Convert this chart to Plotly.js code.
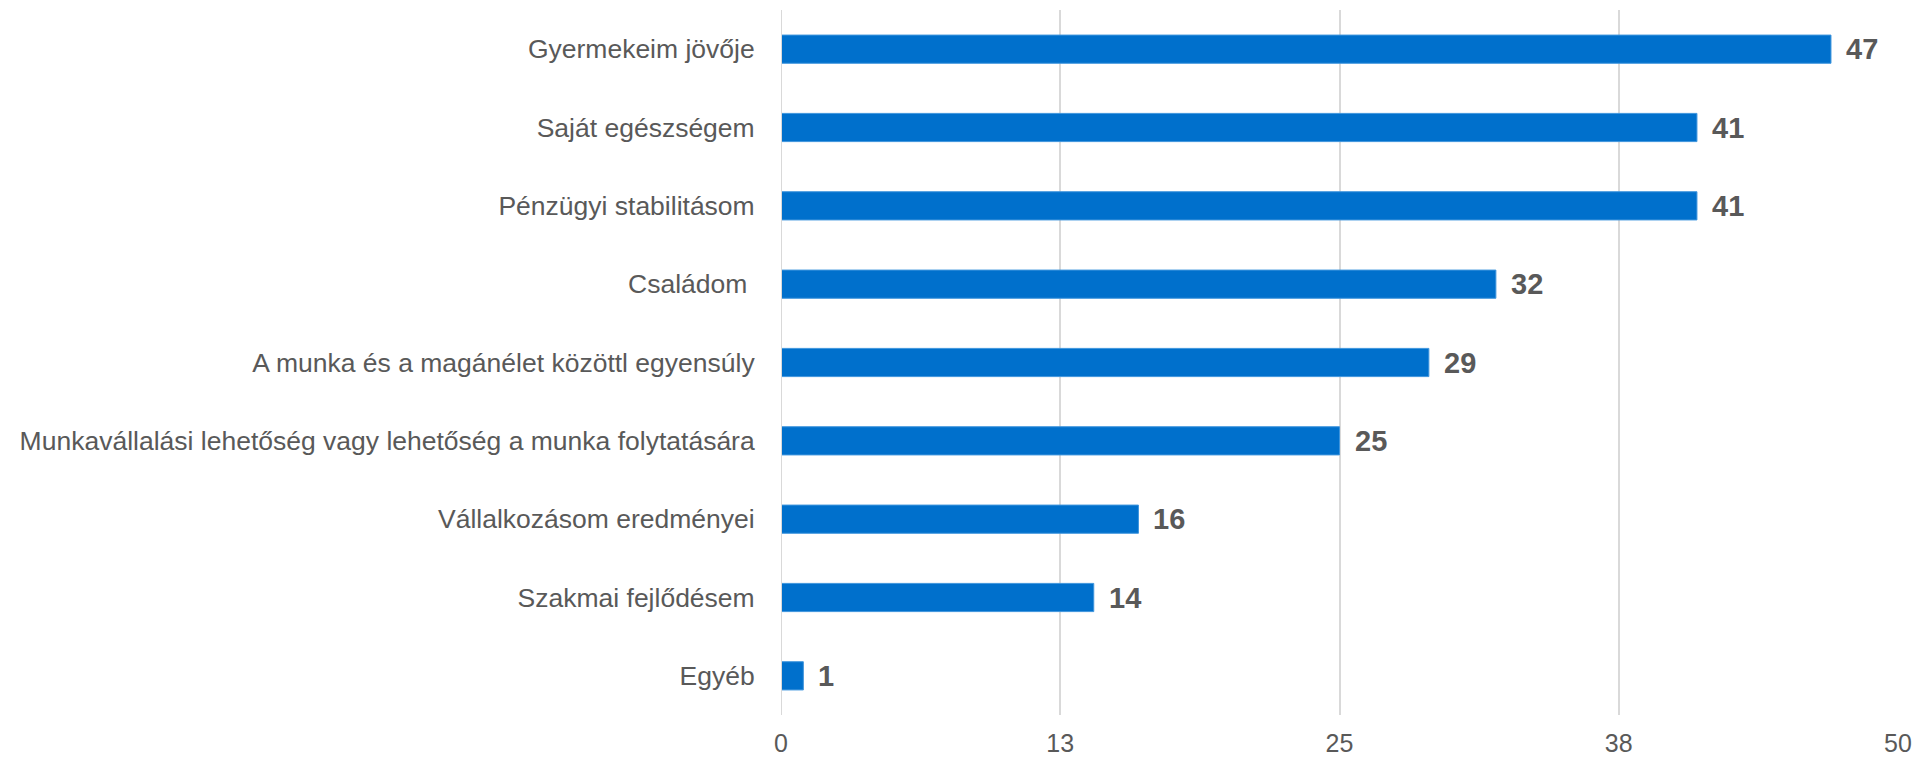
<!DOCTYPE html>
<html>
<head>
<meta charset="utf-8">
<script src="https://cdn.plot.ly/plotly-3.0.1.min.js"></script>
<style>
html,body{margin:0;padding:0;background:#fff;}
#chart{width:1916px;height:760px;}
</style>
</head>
<body>
<div id="chart"></div>
<script>
const categories = [
  "Gyermekeim jövője",
  "Saját egészségem",
  "Pénzügyi stabilitásom",
  "Családom\u00A0",
  "A munka és a magánélet közöttl egyensúly",
  "Munkavállalási lehetőség vagy lehetőség a munka folytatására",
  "Vállalkozásom eredményei",
  "Szakmai fejlődésem",
  "Egyéb"
];
const values = [47, 41, 41, 32, 29, 25, 16, 14, 1];
const tickValues = [0, 12.5, 25, 37.5, 50];
const tickLabels = ["0", "13", "25", "38", "50"];

const fontFamily = "Liberation Sans, Arial, sans-serif";
const grey = "#595959";

const trace = {
  type: "bar",
  orientation: "h",
  x: values,
  y: categories,
  width: 0.36,
  marker: {color: "#0070CC", line: {color: "#3F95DD", width: 1}},
  hoverinfo: "none"
};

const annotations = values.map((v, i) => ({
  x: v,
  y: categories[i],
  xref: "x",
  yref: "y",
  text: "<b>" + v + "</b>",
  showarrow: false,
  xanchor: "left",
  yanchor: "middle",
  xshift: 13,
  font: {family: fontFamily, size: 29, color: grey}
}));

const layout = {
  width: 1916,
  height: 760,
  margin: {l: 781, r: 18, t: 10, b: 45},
  paper_bgcolor: "#ffffff",
  plot_bgcolor: "#ffffff",
  showlegend: false,
  bargap: 0,
  xaxis: {
    range: [0, 50],
    tickmode: "array",
    tickvals: tickValues,
    ticktext: tickLabels,
    showgrid: true,
    gridcolor: "#D9D9D9",
    gridwidth: 2,
    zeroline: false,
    showline: false,
    ticks: "outside",
    ticklen: 6,
    tickcolor: "rgba(0,0,0,0)",
    tickfont: {family: fontFamily, size: 25, color: grey},
    fixedrange: true
  },
  yaxis: {
    type: "category",
    categoryorder: "array",
    categoryarray: categories,
    autorange: "reversed",
    showgrid: false,
    zeroline: false,
    showline: false,
    ticks: "outside",
    ticklen: 20,
    tickcolor: "rgba(0,0,0,0)",
    tickfont: {family: fontFamily, size: 26.5, color: grey},
    fixedrange: true
  },
  shapes: [{
    type: "line", xref: "x", yref: "paper",
    x0: 0, x1: 0, y0: 0, y1: 1,
    line: {color: "#D9D9D9", width: 2}
  }],
  annotations: annotations
};

Plotly.newPlot("chart", [trace], layout, {displayModeBar: false, staticPlot: true});
</script>
</body>
</html>
